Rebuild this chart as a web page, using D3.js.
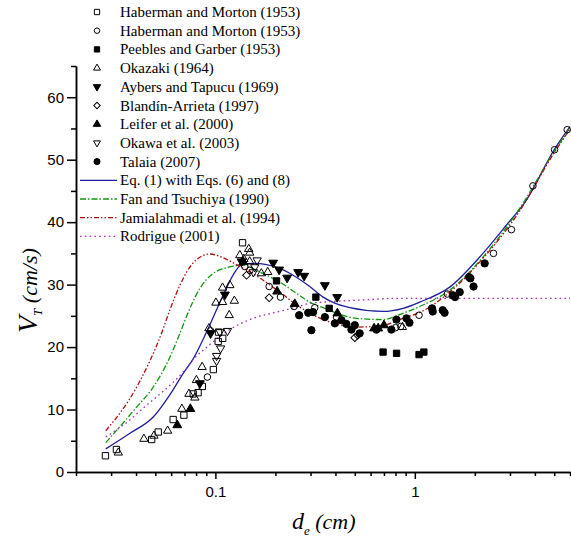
<!DOCTYPE html>
<html><head><meta charset="utf-8">
<script src="https://cdn.jsdelivr.net/npm/d3@7"></script>
<style>body{margin:0;background:#fff}</style>
</head><body><svg id="c" width="571" height="539"></svg>
<script>
// ---- data: [d_e (cm), V_T (cm/s)] ----
const habermanSquares = [[0.0281,2.6],[0.0319,3.6],[0.0479,5.2],[0.0517,6.4],[0.0614,8.4],[0.0695,9.1],[0.0774,12.5],[0.0819,12.7],[0.0860,13.7],[0.0977,16.4],[0.1033,20.9],[0.1088,21.4],[0.1037,22.4],[0.1368,36.7]];
const habermanCircles = [[0.0912,15.2],[0.0946,22.6],[0.1405,32.9],[0.149,32.3],[0.186,29.7],[0.212,28.0],[0.248,26.5],[0.315,26.3],[0.405,24.8],[0.80,23.1],[0.85,23.3],[1.05,25.1],[1.456,28.5],[2.48,35.0],[3.05,38.8],[3.91,45.8],[5.02,51.6],[5.81,54.8]];
const peebles = [[0.2026,30.6],[0.319,28.0],[0.372,26.2],[0.693,19.2],[0.81,19.0],[1.05,18.8],[1.11,19.2]];
const okazaki = [[0.0326,3.1],[0.0438,5.3],[0.0492,5.8],[0.0576,6.6],[0.0679,10.1],[0.0737,12.5],[0.0789,11.9],[0.0803,14.7],[0.0858,16.8],[0.0928,23.0],[0.1173,25.1],[0.1006,27.1],[0.1086,27.2],[0.1245,27.4],[0.1086,29.5],[0.1182,29.9],[0.1326,34.7],[0.147,35.7],[0.1486,35.1],[0.1389,34.1],[0.1486,33.7],[0.170,31.8],[0.183,32.0],[0.867,23.2]];
const aybers = [[0.0836,14.2],[0.0946,22.2],[0.1116,28.4],[0.1353,33.7],[0.1948,33.5],[0.2088,32.4],[0.229,31.1],[0.260,32.0],[0.2786,31.4],[0.354,29.9],[0.408,28.0]];
const blandin = [[0.1433,31.5],[0.186,27.9],[0.50,21.5],[0.517,21.9]];
const leifer = [[0.0644,7.5],[0.0749,10.1],[0.138,33.6],[0.204,28.9],[0.250,26.9],[0.409,25.4],[0.625,23.0],[0.655,23.0],[0.70,23.5]];
const okawa = [[0.1014,17.8],[0.1014,18.6],[0.1062,19.8],[0.1054,22.4],[0.115,22.6],[0.1619,33.9],[0.1576,32.8],[0.155,32.0]];
const talaia = [[0.263,25.1],[0.292,25.5],[0.303,22.7],[0.309,25.6],[0.354,24.8],[0.397,23.8],[0.429,24.3],[0.454,23.7],[0.481,22.8],[0.50,23.5],[0.529,22.2],[0.642,22.8],[0.763,22.8],[0.809,24.4],[0.908,24.6],[0.94,23.9],[1.22,26.2],[1.23,25.7],[1.38,25.9],[1.41,25.5],[1.55,28.3],[1.59,28.0],[1.68,28.8],[1.87,31.2],[1.90,31.0],[1.97,29.7],[2.24,33.4]];

const eqLine = [[0.0282,3.7],[0.0373,6.2],[0.0488,8.8],[0.0592,12.4],[0.069,15.8],[0.0774,18.1],[0.0903,22.4],[0.1094,28.3],[0.1252,32.0],[0.1353,33.2],[0.1546,33.4],[0.1805,33.2],[0.2104,32.6],[0.2454,31.5],[0.2916,29.9],[0.347,28.0],[0.472,26.3],[0.693,25.7],[0.873,26.2],[1.058,27.2],[1.496,29.6],[2.196,35.0],[2.876,39.5],[3.62,43.5],[5.02,51.7],[6.0,55.3]];
const fanLine = [[0.0282,4.7],[0.0403,10.4],[0.0488,13.6],[0.0592,18.4],[0.0664,22.2],[0.0745,26.2],[0.0836,29.4],[0.0975,31.8],[0.1138,32.7],[0.1378,33.1],[0.167,32.0],[0.2104,30.4],[0.255,28.6],[0.297,27.2],[0.347,26.3],[0.51,24.6],[0.693,24.4],[0.873,25.4],[1.058,26.5],[1.496,29.1],[2.196,34.4],[3.23,41.4],[5.02,51.4],[6.0,55.1]];
const jamLine = [[0.0282,6.6],[0.0403,13.6],[0.0547,22.9],[0.0592,26.0],[0.0664,29.9],[0.0717,32.0],[0.0805,34.0],[0.0938,34.9],[0.1094,34.3],[0.1277,33.2],[0.1608,31.4],[0.2104,28.8],[0.265,26.4],[0.347,24.4],[0.51,23.2],[0.693,23.5],[0.908,24.8],[1.018,25.3],[1.496,28.8],[2.196,34.2],[3.23,41.0],[5.02,51.2],[6.0,54.9]];
const rodLine = [[0.0282,5.6],[0.0345,7.5],[0.0452,10.7],[0.0592,13.9],[0.0703,16.3],[0.0774,18.0],[0.0938,20.4],[0.118,22.8],[0.1546,24.6],[0.2026,25.6],[0.255,26.4],[0.297,27.0],[0.347,27.2],[0.51,27.5],[0.84,27.8],[6.0,27.8]];

const legendLabels = ["Haberman and Morton (1953)","Haberman and Morton (1953)","Peebles and Garber (1953)","Okazaki (1964)","Aybers and Tapucu (1969)","Blandín-Arrieta (1997)","Leifer et al. (2000)","Okawa et al. (2003)","Talaia (2007)","Eq. (1) with Eqs. (6) and (8)","Fan and Tsuchiya (1990)","Jamialahmadi et al. (1994)","Rodrigue (2001)"];
const yMajorTicks = [0,10,20,30,40,50,60];
const yMinorTicks = [5,15,25,35,45,55,65];
const xMajorTicks = [0.1,1];
const xMinorTicks = [0.02,0.03,0.04,0.05,0.06,0.07,0.08,0.09,0.2,0.3,0.4,0.5,0.6,0.7,0.8,0.9,2,3,4,5,6];

// ---- chart ----
const svg = d3.select("#c");
const x = d3.scaleLog().domain([0.02, 6]).range([76, 570]);
const y = d3.scaleLinear().domain([0, 65]).range([472, 66]);
const serif = "'Liberation Serif','Times New Roman',serif";
const sans = "'Liberation Sans',Arial,sans-serif";

// axes
const gx1 = svg.append("g").attr("transform","translate(0,472)")
  .call(d3.axisBottom(x).tickValues(xMinorTicks).tickSize(4).tickSizeOuter(0).tickFormat(""));
const gx2 = svg.append("g").attr("transform","translate(0,472)")
  .call(d3.axisBottom(x).tickValues(xMajorTicks).tickSize(7).tickSizeOuter(0).tickPadding(7).tickFormat(d=>d3.format("")(d)));
const gy1 = svg.append("g").attr("transform","translate(76,0)")
  .call(d3.axisLeft(y).tickValues(yMinorTicks).tickSize(5).tickSizeOuter(0).tickFormat(""));
const gy2 = svg.append("g").attr("transform","translate(76,0)")
  .call(d3.axisLeft(y).tickValues(yMajorTicks).tickSize(9).tickSizeOuter(0).tickPadding(3));
[gx1,gx2,gy1,gy2].forEach(g=>{
  g.selectAll("path,line").attr("stroke","#000").attr("stroke-width",1.5);
  g.selectAll("text").attr("font-family",sans).attr("font-size",15).attr("fill","#000");
});

// curves
const line = d3.line().x(d=>x(d[0])).y(d=>y(d[1])).curve(d3.curveMonotoneX);
const lineSeries = [
  {data: eqLine, color:"#1f1f9c", dash:null},
  {data: fanLine, color:"#0f960f", dash:"6,2,1.5,2"},
  {data: jamLine, color:"#aa1010", dash:"5,2,1.5,2,1.5,2"},
  {data: rodLine, color:"#a030b0", dash:"1.6,3.2"}
];
lineSeries.forEach(s=>{
  svg.append("path").attr("d", line(s.data)).attr("fill","none")
    .attr("stroke", s.color).attr("stroke-width",1.3)
    .attr("stroke-dasharray", s.dash);
});

// markers
const markerSeries = [
  {data: habermanSquares, type:d3.symbolSquare, size:40, rot:0, fill:"none"},
  {data: habermanCircles, type:d3.symbolCircle, size:34, rot:0, fill:"none"},
  {data: peebles, type:d3.symbolSquare, size:40, rot:0, fill:"#000"},
  {data: okazaki, type:d3.symbolTriangle, size:30, rot:0, fill:"none"},
  {data: aybers, type:d3.symbolTriangle, size:34, rot:180, fill:"#000"},
  {data: blandin, type:d3.symbolSquare, size:30, rot:45, fill:"none"},
  {data: leifer, type:d3.symbolTriangle, size:34, rot:0, fill:"#000"},
  {data: okawa, type:d3.symbolTriangle, size:30, rot:180, fill:"none"},
  {data: talaia, type:d3.symbolCircle, size:42, rot:0, fill:"#000"}
];
markerSeries.forEach(s=>{
  svg.append("g").selectAll("path").data(s.data).join("path")
    .attr("d", d3.symbol().type(s.type).size(s.size)())
    .attr("transform", d=>`translate(${x(d[0])},${y(d[1])}) rotate(${s.rot})`)
    .attr("fill", s.fill).attr("stroke","#000").attr("stroke-width",1);
});

// legend
const lg = svg.append("g");
legendLabels.forEach((lab,i)=>{
  const cy = 12 + i*18.7;
  if (i < markerSeries.length) {
    const s = markerSeries[i];
    lg.append("path").attr("d", d3.symbol().type(s.type).size(s.size*0.7)())
      .attr("transform", `translate(97,${cy}) rotate(${s.rot})`)
      .attr("fill", s.fill).attr("stroke","#000").attr("stroke-width",1);
  } else {
    const s = lineSeries[i - markerSeries.length];
    lg.append("line").attr("x1",80).attr("x2",117).attr("y1",cy).attr("y2",cy)
      .attr("stroke", s.color).attr("stroke-width",1.3).attr("stroke-dasharray", s.dash);
  }
  lg.append("text").attr("x",120).attr("y",cy+5).attr("font-family",serif)
    .attr("font-size",15).attr("fill","#000").text(lab);
});

// axis titles
const xt = svg.append("text").attr("x",292).attr("y",529).attr("font-family",serif)
  .attr("font-style","italic").attr("font-size",22).attr("fill","#000");
xt.append("tspan").attr("font-size",24).text("d");
xt.append("tspan").attr("font-size",13).attr("dy",6).text("e");
xt.append("tspan").attr("dy",-6).text(" (cm)");

const yt = svg.append("text").attr("transform","translate(37,333) rotate(-90)")
  .attr("font-family",serif).attr("font-style","italic").attr("font-size",22).attr("fill","#000");
yt.append("tspan").attr("font-size",28).text("V");
yt.append("tspan").attr("font-size",13).attr("dy",5).text("T");
yt.append("tspan").attr("dy",-5).text(" (cm/s)");
</script></body></html>
